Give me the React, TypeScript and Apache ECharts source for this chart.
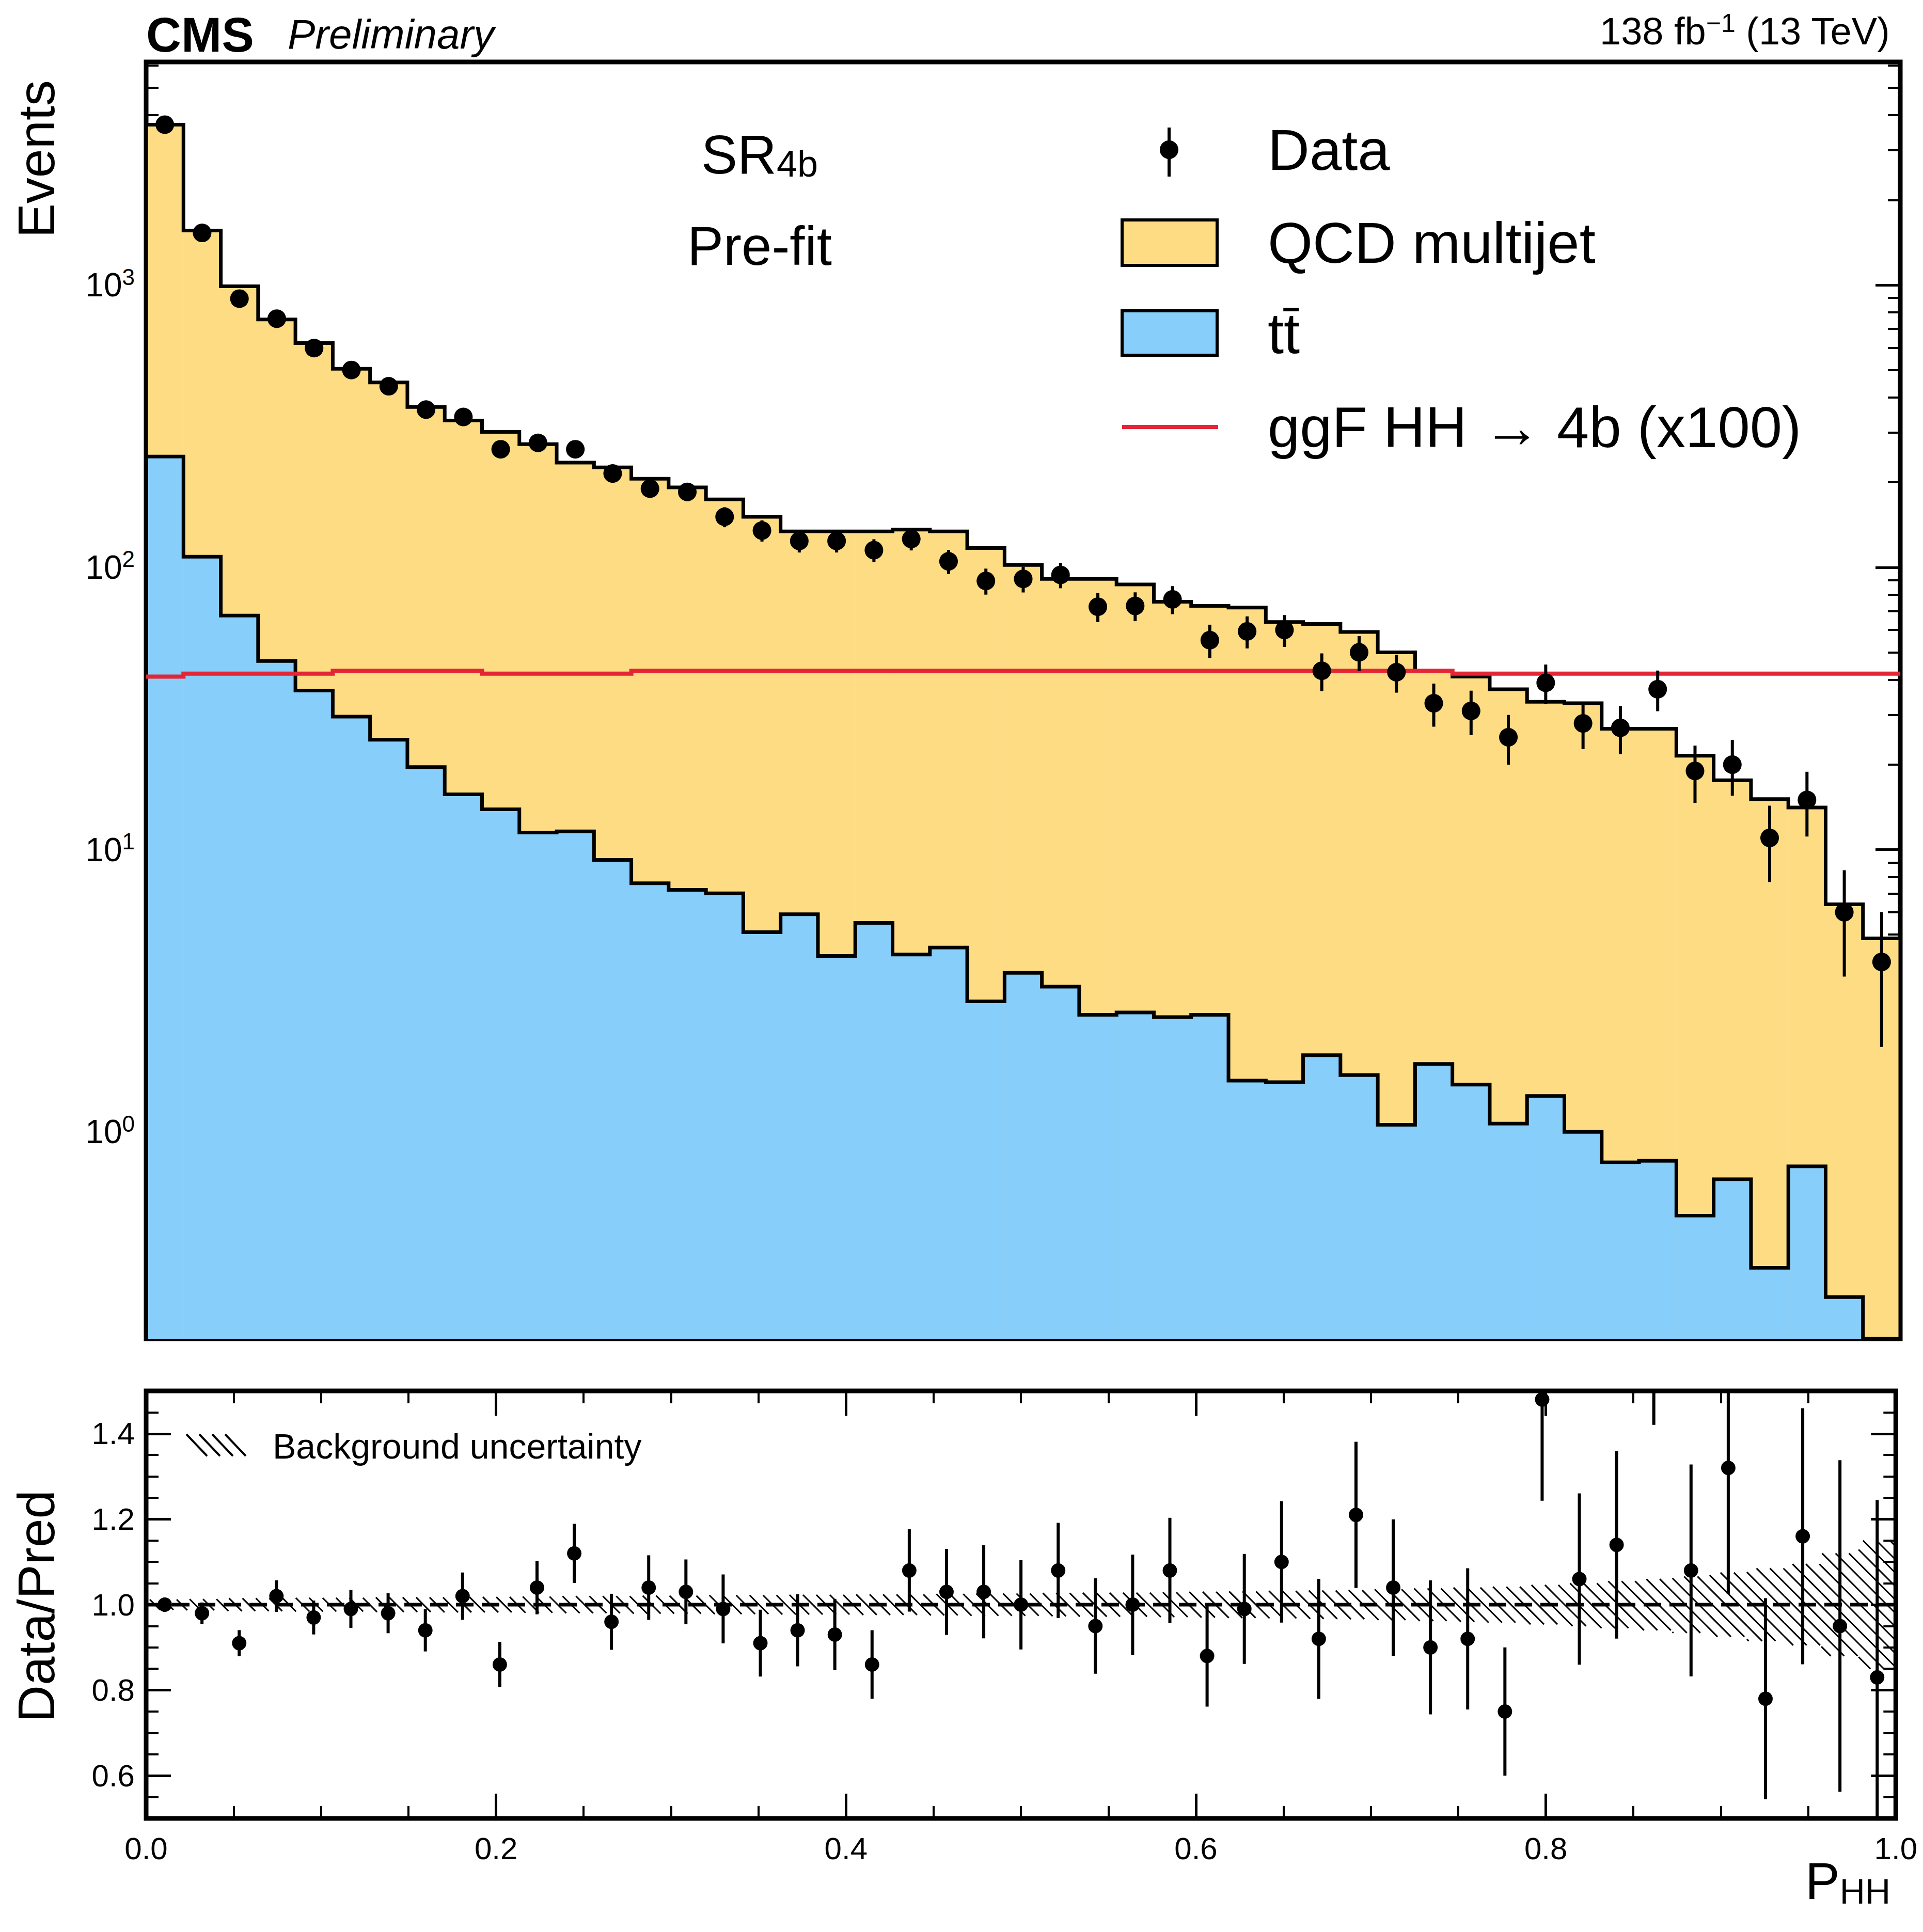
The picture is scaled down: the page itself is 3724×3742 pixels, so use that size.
import React, { useEffect, useRef } from 'react';
import * as echarts from 'echarts';

const NB = 47;
const W = 1 / NB;

// stacked total (QCD + ttbar) per bin
const totalPred = [3700, 1560, 990, 755, 623, 505, 452, 370, 331, 302, 273, 235, 226, 206, 192, 174, 151, 134, 134, 134, 136, 134, 117, 102, 91, 91, 87, 75.5, 73, 72, 64, 63, 59, 50, 43, 41, 37, 33.4, 33, 26.8, 26.8, 21.5, 17.6, 15.1, 14.1, 6.4, 4.85];
const ttbar = [247, 109, 67.5, 46.6, 36.6, 29.6, 24.5, 19.6, 15.7, 13.9, 11.5, 11.6, 9.2, 7.6, 7.2, 7.0, 5.1, 5.9, 4.2, 5.5, 4.25, 4.5, 2.9, 3.66, 3.27, 2.6, 2.65, 2.55, 2.6, 1.52, 1.5, 1.87, 1.59, 1.06, 1.74, 1.47, 1.07, 1.34, 1.0, 0.78, 0.79, 0.505, 0.68, 0.33, 0.755, 0.26, 0.1];
const dataCounts = [3700, 1530, 895, 760, 598, 500, 438, 362, 341, 262, 276, 262, 215, 190, 185, 151, 135, 124, 124, 115, 126, 105, 89.5, 91, 94, 72.5, 73, 77, 55.2, 59.3, 60, 43, 50, 42.5, 33, 31, 25, 39, 28, 27, 37, 19, 20, 11, 15, 6, 4];
const signal = [41, 42, 42, 42, 42, 43, 43, 43, 43, 42, 42, 42, 42, 43, 43, 43, 43, 43, 43, 43, 43, 43, 43, 43, 43, 43, 43, 43, 43, 43, 43, 43, 43, 43, 43, 42, 42, 42, 42, 42, 42, 42, 42, 42, 42, 42, 42];
const ratio = [1.0, 0.98, 0.91, 1.02, 0.97, 0.99, 0.98, 0.94, 1.02, 0.86, 1.04, 1.12, 0.96, 1.04, 1.03, 0.99, 0.91, 0.94, 0.93, 0.86, 1.08, 1.03, 1.03, 1.0, 1.08, 0.95, 1.0, 1.08, 0.88, 0.99, 1.10, 0.92, 1.21, 1.04, 0.90, 0.92, 0.75, 1.48, 1.06, 1.14, 1.7, 1.08, 1.32, 0.78, 1.16, 0.95, 0.83];
const bkgUnc = [0.012, 0.013, 0.015, 0.015, 0.016, 0.016, 0.017, 0.017, 0.018, 0.018, 0.019, 0.02, 0.02, 0.021, 0.021, 0.022, 0.022, 0.023, 0.023, 0.024, 0.024, 0.025, 0.026, 0.026, 0.027, 0.028, 0.028, 0.029, 0.03, 0.031, 0.032, 0.033, 0.034, 0.036, 0.038, 0.04, 0.042, 0.046, 0.05, 0.055, 0.06, 0.066, 0.075, 0.085, 0.095, 0.12, 0.15];
const logMajor = [0, 1, 2, 3];
const ratioMajor = [0.6, 0.8, 1.0, 1.2, 1.4];

const Y_MIN = Math.log10(0.185);
const Y_MAX = Math.log10(6170);
const lg = (v: number) => Math.max(Y_MIN, Math.log10(v));

const logMinor: number[] = [];
for (let k = -1; k <= 3; k++) for (let m = 2; m <= 9; m++) {
  const v = Math.log10(m * Math.pow(10, k));
  if (v > Y_MIN && v < Y_MAX) logMinor.push(v);
}
const ratioMinor: number[] = [];
for (let v = 0.55; v < 1.5; v += 0.05) ratioMinor.push(Math.round(v * 100) / 100);

const FONT = 'Liberation Sans';
const YELLOW = '#fddc83';
const BLUE = '#87cefa';
const RED = '#e42536';

const App: React.FC = () => {
  const ref = useRef<HTMLDivElement>(null);

  useEffect(() => {
    if (!ref.current) return;
    const chart = echarts.init(ref.current, undefined, { renderer: 'svg' });

    const stepPoly = (api: any, vals: number[]) => {
      const pts: number[][] = [api.coord([0, Y_MIN])];
      vals.forEach((v, i) => {
        pts.push(api.coord([i * W, lg(v)]));
        pts.push(api.coord([(i + 1) * W, lg(v)]));
      });
      pts.push(api.coord([1, Y_MIN]));
      return pts;
    };

    const histRect = (vals: number[], fill: string) => (params: any, api: any) => {
      const i = api.value(0);
      const lo = api.coord([i * W, Y_MIN]);
      const hi = api.coord([(i + 1) * W, lg(vals[i])]);
      return { type: 'rect', shape: { x: lo[0], y: hi[1], width: hi[0] - lo[0] + 0.5, height: Math.max(0, lo[1] - hi[1]) }, style: { fill } };
    };

    const idx = totalPred.map((_, i) => [i]);

    const majorAxisY = (gi: number, pos: string, vals: number[], min: number, max: number, labels: boolean, fmt?: any) => ({
      type: 'value', gridIndex: gi, position: pos, min, max,
      axisLine: { show: false }, splitLine: { show: false },
      axisTick: { show: true, inside: true, length: 48, lineStyle: { width: 5, color: '#000' }, customValues: vals },
      axisLabel: labels ? { show: true, customValues: vals, formatter: fmt, fontFamily: FONT, fontSize: 60, color: '#000', margin: 22, rich: { b: { fontSize: 64, fontFamily: FONT }, s: { fontSize: 44, fontFamily: FONT, padding: [0, 0, 32, 0] } } } : { show: false },
    });
    const minorAxisY = (gi: number, pos: string, vals: number[], min: number, max: number) => ({
      type: 'value', gridIndex: gi, position: pos, min, max,
      axisLine: { show: false }, splitLine: { show: false },
      axisTick: { show: true, inside: true, length: 24, lineStyle: { width: 4, color: '#000' }, customValues: vals },
      axisLabel: { show: false },
    });
    const xAx = (gi: number, pos: string, labels: boolean) => ({
      type: 'value', gridIndex: gi, position: pos, min: 0, max: 1, interval: 0.2,
      axisLine: { show: false }, splitLine: { show: false },
      axisTick: { show: true, inside: true, length: 48, lineStyle: { width: 5, color: '#000' } },
      minorTick: { show: true, splitNumber: 4, length: 24, lineStyle: { width: 4, color: '#000' } },
      axisLabel: labels ? { show: true, fontFamily: FONT, fontSize: 60, color: '#000', margin: 28, formatter: (v: number) => v.toFixed(1), showMinLabel: true, showMaxLabel: true } : { show: false },
    });

    const hatch = (params: any, api: any) => {
      const i = api.value(0);
      const p0 = api.coord([i * W, 1 + bkgUnc[i]]);
      const p1 = api.coord([(i + 1) * W, 1 - bkgUnc[i]]);
      const x0 = p0[0], x1 = p1[0], y0 = p0[1], y1 = p1[1];
      const sp = 26;
      const children: any[] = [];
      const cMin = Math.floor((y0 - x1) / sp) * sp;
      for (let c = cMin; c <= y1 - x0; c += sp) {
        const xa = Math.max(x0, y0 - c), xb = Math.min(x1, y1 - c);
        if (xb > xa) children.push({ type: 'line', shape: { x1: xa, y1: xa + c, x2: xb, y2: xb + c }, style: { stroke: '#000', lineWidth: 3 } });
      }
      return { type: 'group', children };
    };

    const option: any = {
      animation: false,
      grid: [
        { left: 275, top: 112, width: 3397, height: 2473, show: true, borderColor: '#000', borderWidth: 9, backgroundColor: 'transparent' },
        { left: 275, top: 2686, width: 3397, height: 828, show: true, borderColor: '#000', borderWidth: 9, backgroundColor: 'transparent' },
      ],
      xAxis: [xAx(0, 'bottom', false), xAx(0, 'top', false), xAx(1, 'bottom', true), xAx(1, 'top', false)],
      yAxis: [
        majorAxisY(0, 'left', logMajor, Y_MIN, Y_MAX, true, (v: number) => `{b|10}{s|${Math.round(v)}}`),
        minorAxisY(0, 'left', logMinor, Y_MIN, Y_MAX),
        majorAxisY(0, 'right', logMajor, Y_MIN, Y_MAX, false),
        minorAxisY(0, 'right', logMinor, Y_MIN, Y_MAX),
        majorAxisY(1, 'left', ratioMajor, 0.5, 1.5, true, (v: number) => v.toFixed(1)),
        minorAxisY(1, 'left', ratioMinor, 0.5, 1.5),
        majorAxisY(1, 'right', ratioMajor, 0.5, 1.5, false),
        minorAxisY(1, 'right', ratioMinor, 0.5, 1.5),
      ],
      series: [
        { type: 'custom', xAxisIndex: 0, yAxisIndex: 0, data: idx, clip: true, renderItem: histRect(totalPred, YELLOW), z: 1 },
        { type: 'custom', xAxisIndex: 0, yAxisIndex: 0, data: idx, clip: true, renderItem: histRect(ttbar, BLUE), z: 2 },
        {
          type: 'custom', xAxisIndex: 0, yAxisIndex: 0, data: [[0]], clip: true, z: 3,
          renderItem: (p: any, api: any) => ({
            type: 'group', children: [
              { type: 'polyline', shape: { points: stepPoly(api, totalPred) }, style: { stroke: '#000', lineWidth: 7, fill: null } },
              { type: 'polyline', shape: { points: stepPoly(api, ttbar) }, style: { stroke: '#000', lineWidth: 7, fill: null } },
            ],
          }),
        },
        {
          type: 'custom', xAxisIndex: 0, yAxisIndex: 0, data: [[0]], clip: true, z: 4,
          renderItem: (p: any, api: any) => {
            const pts = stepPoly(api, signal).slice(1, -1);
            return { type: 'polyline', shape: { points: pts }, style: { stroke: RED, lineWidth: 8, fill: null } };
          },
        },
        {
          type: 'custom', xAxisIndex: 0, yAxisIndex: 0, data: idx, clip: true, z: 5,
          renderItem: (p: any, api: any) => {
            const i = api.value(0);
            const n = dataCounts[i], e = Math.sqrt(n);
            const c = api.coord([(i + 0.5) * W, lg(n)]);
            const a = api.coord([(i + 0.5) * W, lg(n + e)]);
            const b = api.coord([(i + 0.5) * W, lg(Math.max(n - e, 0.01))]);
            return {
              type: 'group', children: [
                { type: 'line', shape: { x1: c[0], y1: a[1], x2: c[0], y2: b[1] }, style: { stroke: '#000', lineWidth: 6 } },
                { type: 'circle', shape: { cx: c[0], cy: c[1], r: 18 }, style: { fill: '#000' } },
              ],
            };
          },
        },
        { type: 'custom', xAxisIndex: 2, yAxisIndex: 4, data: idx, clip: true, renderItem: hatch, z: 1 },
        {
          type: 'custom', xAxisIndex: 2, yAxisIndex: 4, data: [[0]], clip: true, z: 2,
          renderItem: (p: any, api: any) => {
            const a = api.coord([0, 1]), b = api.coord([1, 1]);
            return { type: 'line', shape: { x1: a[0], y1: a[1], x2: b[0], y2: b[1] }, style: { stroke: '#000', lineWidth: 7, lineDash: [34, 16] } };
          },
        },
        {
          type: 'custom', xAxisIndex: 2, yAxisIndex: 4, data: idx, clip: true, z: 3,
          renderItem: (p: any, api: any) => {
            const i = api.value(0);
            const r = ratio[i], e = r / Math.sqrt(dataCounts[i]);
            const c = api.coord([(i + 0.5) * W, r]);
            const a = api.coord([(i + 0.5) * W, r + e]);
            const b = api.coord([(i + 0.5) * W, r - e]);
            return {
              type: 'group', children: [
                { type: 'line', shape: { x1: c[0], y1: a[1], x2: c[0], y2: b[1] }, style: { stroke: '#000', lineWidth: 6 } },
                { type: 'circle', shape: { cx: c[0], cy: c[1], r: 14 }, style: { fill: '#000' } },
              ],
            };
          },
        },
      ],
      graphic: [
        { type: 'text', left: 275, top: 12, style: { text: 'CMS', font: `bold 94px "${FONT}"`, fill: '#000' } },
        { type: 'text', left: 549, top: 18, style: { text: 'Preliminary', font: `italic 80px "${FONT}"`, fill: '#000' } },
        { type: 'text', right: 55, top: 12, style: { text: '138 fb{s|−1} (13 TeV)', font: `74px "${FONT}"`, fill: '#000', rich: { s: { fontSize: 50, fontFamily: FONT, padding: [0, 0, 30, 0] } } } },
        { type: 'text', x: 62, y: 300, rotation: Math.PI / 2, style: { text: 'Events', font: `100px "${FONT}"`, fill: '#000', align: 'center', verticalAlign: 'middle' } },
        { type: 'text', x: 62, y: 3103, rotation: Math.PI / 2, style: { text: 'Data/Pred', font: `100px "${FONT}"`, fill: '#000', align: 'center', verticalAlign: 'middle' } },
        { type: 'text', right: 55, top: 3585, style: { text: 'P{s|HH}', font: `100px "${FONT}"`, fill: '#000', rich: { s: { fontSize: 68, fontFamily: FONT, padding: [40, 0, 0, 0] } } } },
        { type: 'text', x: 1463, y: 291, style: { text: 'SR{s|4b}', font: `105px "${FONT}"`, fill: '#000', align: 'center', verticalAlign: 'middle', rich: { s: { fontSize: 72, fontFamily: FONT, padding: [36, 0, 0, 0] } } } },
        { type: 'text', x: 1463, y: 468, style: { text: 'Pre-fit', font: `105px "${FONT}"`, fill: '#000', align: 'center', verticalAlign: 'middle' } },
        { type: 'line', shape: { x1: 2256, y1: 239, x2: 2256, y2: 334 }, style: { stroke: '#000', lineWidth: 6 } },
        { type: 'circle', shape: { cx: 2256, cy: 282, r: 18 }, style: { fill: '#000' } },
        { type: 'text', x: 2447, y: 282, style: { text: 'Data', font: `112px "${FONT}"`, fill: '#000', verticalAlign: 'middle' } },
        { type: 'rect', shape: { x: 2165, y: 418, width: 184, height: 88 }, style: { fill: YELLOW, stroke: '#000', lineWidth: 6 } },
        { type: 'text', x: 2447, y: 462, style: { text: 'QCD multijet', font: `112px "${FONT}"`, fill: '#000', verticalAlign: 'middle' } },
        { type: 'rect', shape: { x: 2165, y: 594, width: 184, height: 86 }, style: { fill: BLUE, stroke: '#000', lineWidth: 6 } },
        { type: 'text', x: 2447, y: 637, style: { text: 't\u0074\u0304', font: `112px "${FONT}"`, fill: '#000', verticalAlign: 'middle' } },
        { type: 'line', shape: { x1: 2165, y1: 819, x2: 2351, y2: 819 }, style: { stroke: RED, lineWidth: 8 } },
        { type: 'text', x: 2447, y: 819, style: { text: 'ggF HH → 4b (x100)', font: `112px "${FONT}"`, fill: '#000', verticalAlign: 'middle' } },
        ...[0, 1, 2, 3].map((k) => ({ type: 'line', shape: { x1: 353 + k * 25, y1: 2770, x2: 353 + k * 25 + 40, y2: 2812 }, style: { stroke: '#000', lineWidth: 4 } })),
        { type: 'text', x: 520, y: 2793, style: { text: 'Background uncertainty', font: `68px "${FONT}"`, fill: '#000', verticalAlign: 'middle' } },
      ],
    };
    chart.setOption(option);
    return () => chart.dispose();
  }, []);

  return <div ref={ref} style={{ width: 3708, height: 3726, background: '#fff' }} />;
};

export default App;
